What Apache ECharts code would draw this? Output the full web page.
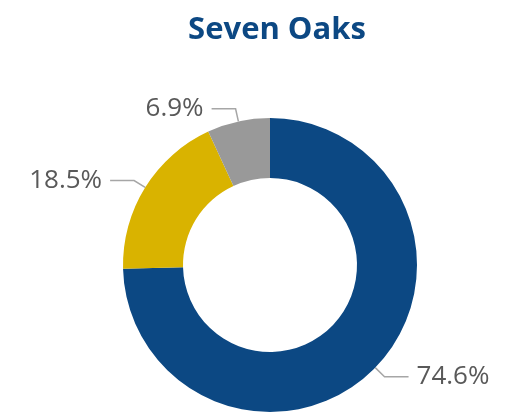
<!DOCTYPE html>
<html><head><meta charset="utf-8">
<script src="https://cdn.jsdelivr.net/npm/echarts@6/dist/echarts.min.js"></script>
<style>html,body{margin:0;padding:0;background:#fff}#c{width:532px;height:418px}</style>
</head><body><div id="c"></div>
<script>
const title = "Seven Oaks";
const categories = ["A", "B", "C"];
const values = [74.6, 18.5, 6.9];
const colors = ["#0c4883", "#d9b300", "#999999"];

const chart = echarts.init(document.getElementById('c'), null, {renderer: 'canvas'});
chart.setOption({
  animation: false,
  title: {
    text: title, left: 272, textAlign: 'center', top: 10,
    textStyle: {fontFamily: 'Open Sans', fontWeight: 'bold', fontSize: 31, color: '#0c4883'}
  },
  series: [{
    type: 'pie',
    center: [270, 265],
    radius: [87, 147],
    startAngle: 90,
    clockwise: true,
    data: categories.map((c, i) => ({name: c, value: values[i], itemStyle: {color: colors[i]}})),
    itemStyle: {borderColor: '#fff', borderWidth: 0},
    label: {
      formatter: p => p.value.toFixed(1) + '%',
      fontFamily: 'Open Sans', fontSize: 26, color: '#595959', distanceToLabelLine: 8
    },
    labelLine: {length: 13, length2: 24, lineStyle: {color: '#a6a6a6', width: 1.5}}
  }]
});
</script></body></html>
